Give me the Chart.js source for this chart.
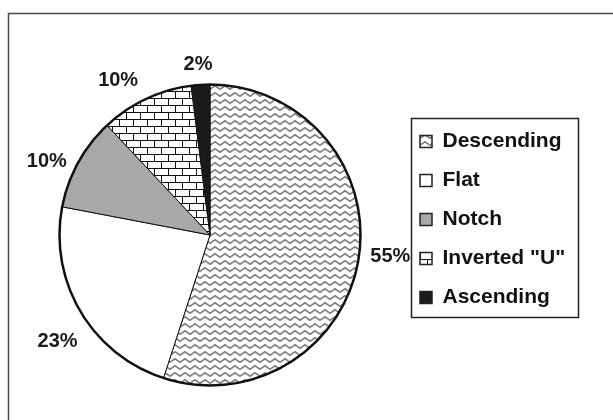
<!DOCTYPE html>
<html>
<head>
<meta charset="utf-8">
<script src="https://cdn.jsdelivr.net/npm/chart.js@4.4.0/dist/chart.umd.min.js"></script>
<style>
  html, body { margin: 0; padding: 0; background: #fff; }
</style>
</head>
<body>
<canvas id="shapes" width="613" height="420"></canvas>
<script>
// data
var categories = ["Descending", "Flat", "Notch", 'Inverted "U"', "Ascending"];
var shares = [55, 23, 10, 10, 2];

var FONT = "'Liberation Sans', Arial, Helvetica, sans-serif";

// small hand tweaks for the % labels (px), like the original's dragged labels
var labelNudge = [[2, -6], [3, 20], [-5, 6], [-15, -4], [-1, -4]];

// fill patterns
function zigzagPattern() {
  var c = document.createElement("canvas");
  c.width = 10;
  c.height = 7;
  var g = c.getContext("2d");
  g.fillStyle = "#fff";
  g.fillRect(0, 0, 10, 7);
  g.strokeStyle = "#808080";
  g.lineWidth = 1.6;
  g.beginPath();
  g.moveTo(-5, 1.8);
  g.lineTo(0, 5.2);
  g.lineTo(5, 1.8);
  g.lineTo(10, 5.2);
  g.lineTo(15, 1.8);
  g.stroke();
  return g.createPattern(c, "repeat");
}

function brickPattern() {
  var c = document.createElement("canvas");
  c.width = 14;
  c.height = 14;
  var g = c.getContext("2d");
  g.fillStyle = "#fff";
  g.fillRect(0, 0, 14, 14);
  g.strokeStyle = "#111";
  g.lineWidth = 1;
  g.beginPath();
  g.moveTo(0, 0.5); g.lineTo(14, 0.5);
  g.moveTo(0, 7.5); g.lineTo(14, 7.5);
  g.moveTo(0.5, 0); g.lineTo(0.5, 7.5);
  g.moveTo(7.5, 7.5); g.lineTo(7.5, 14);
  g.stroke();
  return g.createPattern(c, "repeat");
}

var sliceFills = [zigzagPattern(), "#ffffff", "#a8a8a8", brickPattern(), "#1a1a1a"];

// legend sizing so the pie sits left of it
var legendFont = 21;
var legendBox = 12;
var legendPad = 18;
var mctx = document.createElement("canvas").getContext("2d");
mctx.font = "bold " + legendFont + "px " + FONT;
var widest = 0;
categories.forEach(function (c) {
  widest = Math.max(widest, mctx.measureText(c).width);
});
var legendWidth = legendPad + legendBox + legendFont / 2 + widest;
var areaRight = 402;
var padRight = 613 - areaRight - legendWidth - 10; // legend comes out ~10px wider than measured

var frames = {
  id: "frames",
  beforeDraw: function (chart) {
    var ctx = chart.ctx;
    ctx.save();
    ctx.strokeStyle = "#4a4a4a";
    ctx.lineWidth = 1.5;
    ctx.strokeRect(8.5, 13.5, 700, 500);
    ctx.restore();
  },
  afterLayout: function (chart) {
    // push legend block down a little
    chart.legend.top += 29;
    chart.legend.bottom += 29;
  },
  afterDraw: function (chart) {
    var ctx = chart.ctx;
    ctx.save();
    ctx.strokeStyle = "#222";
    ctx.lineWidth = 1.5;
    ctx.strokeRect(411.5, 118.5, 167, 199);
    ctx.restore();
  },
};

var pctLabels = {
  id: "pctLabels",
  afterDatasetsDraw: function (chart) {
    var ctx = chart.ctx;
    var meta = chart.getDatasetMeta(0);
    var first = meta.data[0];
    ctx.save();
    // heavier outer rim
    ctx.beginPath();
    ctx.arc(first.x, first.y, first.outerRadius, 0, Math.PI * 2);
    ctx.lineWidth = 2.5;
    ctx.strokeStyle = "#111";
    ctx.stroke();

    ctx.font = "bold 20px " + FONT;
    ctx.fillStyle = "#1a1a1a";
    ctx.textAlign = "center";
    ctx.textBaseline = "middle";
    meta.data.forEach(function (arc, i) {
      var mid = (arc.startAngle + arc.endAngle) / 2;
      var txt = shares[i] + "%";
      var w = ctx.measureText(txt).width;
      var h = 15;
      var r = arc.outerRadius + 10;
      var dx = Math.cos(mid);
      var dy = Math.sin(mid);
      var x = arc.x + dx * r + dx * w / 2 + labelNudge[i][0];
      var y = arc.y + dy * r + dy * h / 2 + labelNudge[i][1];
      ctx.fillText(txt, x, y + 1);
    });
    ctx.restore();
  },
};

var shapes_ctx = document.getElementById("shapes").getContext("2d");

var shapes = new Chart(shapes_ctx, {
  type: "pie",
  data: {
    labels: categories,
    datasets: [
      {
        data: shares,
        backgroundColor: sliceFills,
        borderColor: "#111",
        borderWidth: 1,
        hoverOffset: 0,
      },
    ],
  },
  options: {
    responsive: false,
    animation: false,
    layout: {
      padding: { left: 18, top: 84, bottom: 34, right: padRight },
    },
    plugins: {
      tooltip: {
        enabled: false,
      },
      legend: {
        position: "right",
        align: "start",
        labels: {
          boxWidth: legendBox,
          boxHeight: legendBox,
          padding: legendPad,
          color: "#111",
          font: { family: FONT, size: legendFont, weight: "bold" },
          generateLabels: function (chart) {
            var items = Chart.overrides.pie.plugins.legend.labels.generateLabels(chart);
            return items.map(function (it) {
              it.lineWidth = 1.5;
              it.strokeStyle = "#222";
              return it;
            });
          },
        },
      },
    },
  },
  plugins: [frames, pctLabels],
});
</script>
</body>
</html>
